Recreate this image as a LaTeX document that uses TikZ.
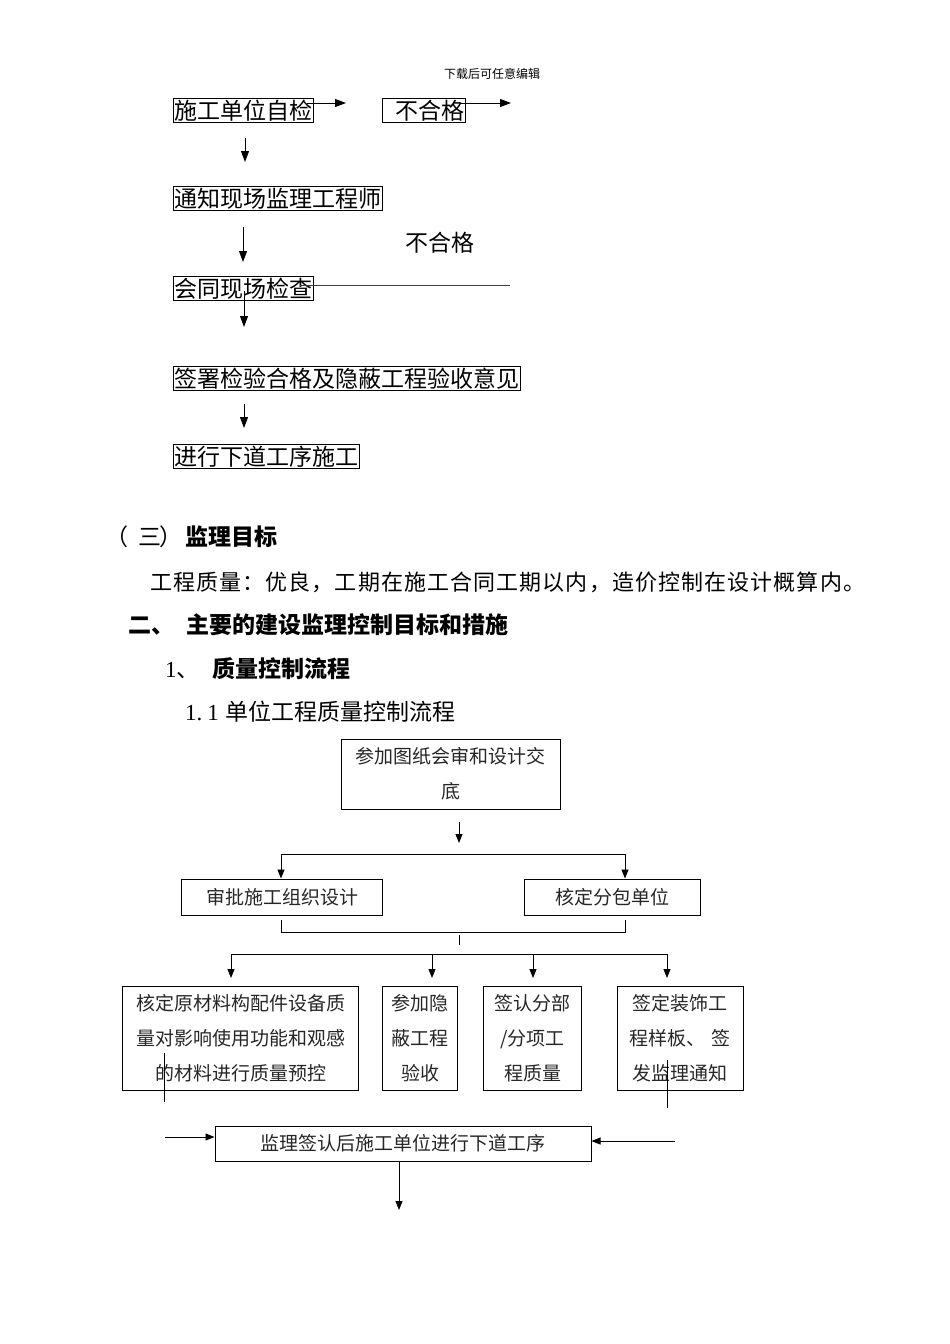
\documentclass[tikz,border=0pt]{standalone}
\usepackage{fontspec}
\setmainfont{Noto Sans CJK SC}
\newfontfamily\lser{Liberation Serif}
\newfontfamily\bodyfont[LetterSpace=5]{Noto Sans CJK SC}
\usetikzlibrary{arrows.meta}
\tikzset{
  tb/.style={draw, line width=0.8pt, inner xsep=1pt, inner ysep=0.5pt, anchor=north west,
    font=\fontsize{23}{27}\selectfont, text height=20.2pt, text depth=2.8pt},
  lA/.style={inner sep=0pt, font=\fontsize{12}{14}\selectfont, text height=10.56pt, text depth=1.44pt},
  lB/.style={inner sep=0pt, font=\bodyfont\fontsize{22}{26}\selectfont, text height=19.36pt, text depth=2.64pt},
  lC/.style={inner sep=0pt, font=\fontsize{23}{27}\selectfont, text height=20.24pt, text depth=2.76pt},
  fb/.style={draw, line width=1pt, align=center, inner sep=0pt, text=black!85,
    font=\fontsize{19}{35}\selectfont},
  arr/.style={-{Triangle[length=9pt,width=7pt]}, line width=0.9pt},
  arrT/.style={-{Triangle[length=11pt,width=8pt]}, line width=0.9pt},
  ln/.style={line width=1pt},
}
\begin{document}
\begin{tikzpicture}[x=1pt,y=-1pt]
\useasboundingbox (0,0) rectangle (950,1344);
% header
\node[lA] (hdr) at (492,74) {下载后可任意编辑};
% top flow
\node[tb] (jc) at (173,98) {施工单位自检};
\node[tb, text width=81pt, align=right] (bhg) at (382,98) {不合格};
\node[tb] (tz) at (173,186) {通知现场监理工程师};
\node[tb] (hj) at (173,276) {会同现场检查};
\node[tb] (qs) at (173,366) {签署检验合格及隐蔽工程验收意见};
\node[tb] (jx) at (173,444) {进行下道工序施工};
\node[lC, anchor=west] (bhg2) at (405,243) {不合格};
\coordinate (a1s) at (307,103); \coordinate (a1e) at (346,103);
\coordinate (a2s) at (460,103); \coordinate (a2e) at (511,103);
\coordinate (d1s) at (245,138); \coordinate (d1e) at (245,162);
\coordinate (d2s) at (243,227); \coordinate (d2e) at (243,262);
\coordinate (d3s) at (244,291); \coordinate (d3e) at (244,327);
\coordinate (d4s) at (244,404); \coordinate (d4e) at (244,428);
\coordinate (hle) at (510,285); \coordinate (hls) at (300,285);
\draw[arrT] (a1s) -- (a1e);
\draw[arrT] (a2s) -- (a2e);
\draw[arrT] (d1s) -- (d1e);
\draw[arrT] (d2s) -- (d2e);
\draw[arrT] (d3s) -- (d3e);
\draw[arrT] (d4s) -- (d4e);
\draw[line width=0.9pt, black!75] (hls) -- (hle);
% headings
\node[lC, anchor=west] (h3) at (105,537) {（\hspace{10pt}三\hspace{-2pt}）\hspace{3pt}\textbf{监理目标}};
\node[lB, anchor=west] (body) at (150,582) {工程质量：优良，工期在施工合同工期以内，造价控制在设计概算内。};
\node[lC, anchor=west, font=\fontsize{23}{27}\selectfont\bfseries] (h2) at (128,625) {二、\hspace{12pt}主要的建设监理控制目标和措施};
\node[lC, anchor=west] (h1) at (165,669) {{\lser 1}、\hspace{12.5pt}\textbf{质量控制流程}};
\node[lC, anchor=west] (h11) at (185,712) {{\lser 1.\hspace{5pt}1}\hspace{6.5pt}单位工程质量控制流程};
% flowchart
\node[fb, minimum width=219pt, minimum height=70pt] (A) at (450.5,774) {参加图纸会审和设计交\\底};
\node[fb, minimum width=201pt, minimum height=36pt] (B) at (282,897) {审批施工组织设计};
\node[fb, minimum width=176pt, minimum height=36pt] (C) at (612.5,897) {核定分包单位};
\node[fb, minimum width=236pt, minimum height=104pt] (D) at (240.5,1038) {核定原材料构配件设备质\\量对影响使用功能和观感\\的材料进行质量预控};
\node[fb, minimum width=75pt, minimum height=104pt] (E) at (420,1038) {参加隐\\蔽工程\\验收};
\node[fb, minimum width=98pt, minimum height=104pt] (F) at (532.5,1038) {签认分部\\/分项工\\程质量};
\node[fb, minimum width=126pt, minimum height=104pt] (G) at (680,1038) {签定装饰工\\程样板、\hspace{6pt}签\\发监理通知};
\node[fb, minimum width=376pt, minimum height=35pt] (H) at (403,1143.5) {监理签认后施工单位进行下道工序};
% connectors
\coordinate (aS) at (459,822); \coordinate (aE) at (459,843);
\draw[arr] (aS) -- (aE);
\coordinate (bl) at (281,854); \coordinate (br) at (625,854);
\draw[ln] (bl) -- (br);
\draw[arr] (bl) -- (bl |- B.north);
\draw[arr] (br) -- (br |- C.north);
\coordinate (cl) at (281,920); \coordinate (cr) at (625,920);
\draw[ln] (cl) -- (281,932) -- (625,932) -- (cr);
\coordinate (m1) at (459,935); \coordinate (m2) at (459,945);
\draw[ln] (m1) -- (m2);
\coordinate (rl) at (231,954); \coordinate (rr) at (667,954);
\draw[ln] (rl) -- (rr);
\draw[arr] (rl) -- (231,978);
\draw[arr] (432,954) -- (432,978);
\draw[arr] (533,954) -- (533,978);
\draw[arr] (rr) -- (667,978);
\coordinate (v1s) at (164,1053); \coordinate (v1e) at (164,1102);
\coordinate (v2s) at (667,1060); \coordinate (v2e) at (667,1108);
\draw[ln] (v1s) -- (v1e);
\draw[ln] (v2s) -- (v2e);
\coordinate (lin) at (165,1137);
\draw[arr] (lin) -- (lin -| H.west);
\coordinate (rin) at (675,1141);
\draw[arr] (rin) -- (rin -| H.east);
\coordinate (out) at (399,1210);
\draw[arr] (H.south -| out) -- (out);
\end{tikzpicture}
\end{document}
